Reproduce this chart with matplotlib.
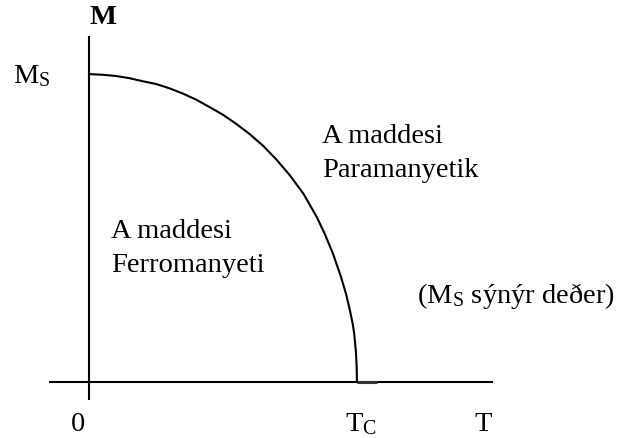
import matplotlib
matplotlib.use("Agg")
import matplotlib.pyplot as plt

plt.rcParams['font.family'] = ['Liberation Serif', 'DejaVu Serif']
plt.rcParams['mathtext.fontset'] = 'custom'
plt.rcParams['mathtext.rm'] = 'Liberation Serif'
plt.rcParams['mathtext.it'] = 'Liberation Serif:italic'
plt.rcParams['mathtext.bf'] = 'Liberation Serif:bold'

# magnetization curve (T/Tc, M/Ms)
t_vals = [0.0, 0.05, 0.1, 0.15, 0.2, 0.25, 0.3, 0.35, 0.4, 0.45, 0.5,
          0.55, 0.6, 0.65, 0.7, 0.75, 0.8, 0.85, 0.88, 0.91, 0.94, 0.96,
          0.975, 0.985, 0.99, 0.996, 0.999, 1.0]
m_vals = [1.0, 0.998, 0.994, 0.987, 0.977, 0.968, 0.954, 0.937, 0.917,
          0.893, 0.868, 0.838, 0.805, 0.767, 0.722, 0.671, 0.612, 0.536,
          0.481, 0.418, 0.343, 0.284, 0.228, 0.185, 0.155, 0.10, 0.05, 0.0]

# axes extents
t_axis = [-0.149, 1.507]
m_axis = [-0.058, 1.123]

fig = plt.figure(figsize=(6.19, 4.39), dpi=100)
ax = fig.add_axes([0, 0, 1, 1])
ax.set_xlim(-0.332, 1.978)
ax.set_ylim(-0.182, 1.244)
ax.axis('off')

# coordinate axes
ax.plot(t_axis, [0, 0], color='black', lw=1.5, solid_capstyle='butt')
ax.plot([0, 0], m_axis, color='black', lw=1.5, solid_capstyle='butt')
ax.plot([1.0, 1.075], [0, 0], color='#333333', lw=2.2, solid_capstyle='butt')

# M(T) curve
ax.plot(t_vals, m_vals, color='black', lw=1.5)

fs = 20.5
ax.text(0.052, 1.165, 'M', fontsize=fs, fontweight='bold', ha='center', va='baseline')
ax.text(-0.284, 0.974, r'$\mathrm{M_S}$', fontsize=fs, ha='left', va='baseline')

ax.text(0.869, 0.779, 'A maddesi', fontsize=fs, ha='left', va='baseline')
ax.text(0.869, 0.669, 'Paramanyetik', fontsize=fs, ha='left', va='baseline')
ax.text(0.082, 0.471, 'A maddesi', fontsize=fs, ha='left', va='baseline')
ax.text(0.082, 0.360, 'Ferromanyeti', fontsize=fs, ha='left', va='baseline')
ax.text(1.224, 0.260, r'($\mathrm{M_S}$ sýnýr deðer)', fontsize=fs, ha='left', va='baseline')

ax.text(-0.041, -0.156, '0', fontsize=fs, ha='center', va='baseline')
ax.text(0.955, -0.156, r'$\mathrm{T_C}$', fontsize=fs, ha='left', va='baseline')
ax.text(1.470, -0.156, 'T', fontsize=fs, ha='center', va='baseline')

fig.savefig('out.png', dpi=100, facecolor='white')
